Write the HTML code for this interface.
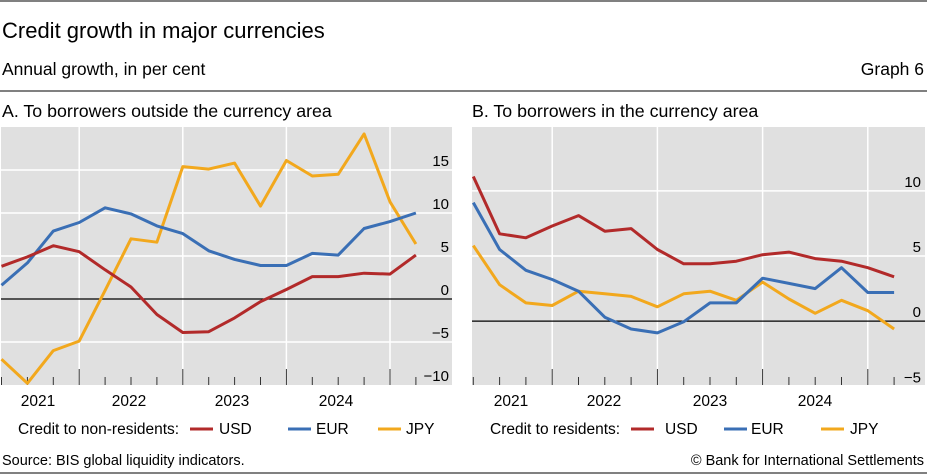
<!DOCTYPE html>
<html><head><meta charset="utf-8"><style>
body{margin:0;background:#fff;font-family:"Liberation Sans",sans-serif;}
svg{display:block}
text{font-family:"Liberation Sans",sans-serif;fill:#000}
</style></head><body>
<svg id="chart" width="927" height="475" viewBox="0 0 927 475">
<line x1="0" y1="1" x2="927" y2="1" stroke="#000" stroke-width="1"/>
<text x="2" y="38" font-size="22">Credit growth in major currencies</text>
<text x="2" y="75" font-size="17.5">Annual growth, in per cent</text>
<text x="924" y="75" font-size="17.5" text-anchor="end">Graph 6</text>
<line x1="0" y1="91" x2="927" y2="91" stroke="#000" stroke-width="1"/>
<text x="2" y="117" font-size="17.8">A. To borrowers outside the currency area</text>
<text x="472" y="117" font-size="17.8">B. To borrowers in the currency area</text>
<g id="pa"></g>
<g id="pb"></g>
<text x="18" y="434" font-size="15.5">Credit to non-residents:</text>
<line x1="190" y1="429" x2="213" y2="429" stroke="#b22a2a" stroke-width="3"/>
<text x="219" y="434" font-size="15.5">USD</text>
<line x1="288" y1="429" x2="311" y2="429" stroke="#3a6fb5" stroke-width="3"/>
<text x="316" y="434" font-size="15.5">EUR</text>
<line x1="378" y1="429" x2="401" y2="429" stroke="#f2a81d" stroke-width="3"/>
<text x="406" y="434" font-size="15.5">JPY</text>
<text x="490" y="434" font-size="15.5">Credit to residents:</text>
<line x1="631" y1="429" x2="654" y2="429" stroke="#b22a2a" stroke-width="3"/>
<text x="665" y="434" font-size="15.5">USD</text>
<line x1="724" y1="429" x2="747" y2="429" stroke="#3a6fb5" stroke-width="3"/>
<text x="751" y="434" font-size="15.5">EUR</text>
<line x1="821" y1="429" x2="844" y2="429" stroke="#f2a81d" stroke-width="3"/>
<text x="850" y="434" font-size="15.5">JPY</text>
<text x="2" y="465" font-size="14.5">Source: BIS global liquidity indicators.</text>
<text x="924" y="465" font-size="14.5" text-anchor="end">© Bank for International Settlements</text>
<line x1="0" y1="473" x2="927" y2="473" stroke="#000" stroke-width="1"/>
</svg>
<script>
const years = ["2021","2022","2023","2024"];
const aTicks = [15,10,5,0,-5,-10];
const aUSD = [3.8,4.9,6.2,5.5,3.4,1.4,-1.8,-3.9,-3.8,-2.2,-0.3,1.1,2.6,2.6,3.0,2.9,5.1];
const aEUR = [1.6,4.2,7.9,8.9,10.6,9.9,8.5,7.6,5.6,4.6,3.9,3.9,5.3,5.1,8.2,9.0,10.0];
const aJPY = [-7.0,-9.8,-6.0,-4.9,1.0,7.0,6.6,15.4,15.1,15.8,10.8,16.1,14.3,14.5,19.2,11.3,6.4];
const bTicks = [10,5,0,-5];
const bUSD = [11.1,6.7,6.4,7.3,8.1,6.9,7.1,5.5,4.4,4.4,4.6,5.1,5.3,4.8,4.6,4.1,3.4];
const bEUR = [9.1,5.5,3.9,3.2,2.3,0.3,-0.6,-0.9,-0.05,1.4,1.4,3.3,2.9,2.5,4.1,2.2,2.2];
const bJPY = [5.8,2.8,1.4,1.2,2.3,2.1,1.9,1.1,2.1,2.3,1.6,3.0,1.7,0.6,1.6,0.8,-0.6];
const NS="http://www.w3.org/2000/svg";
function mk(p,t,a){const e=document.createElementNS(NS,t);for(const k in a)e.setAttribute(k,a[k]);p.appendChild(e);return e;}
function panel(g,cfg){
  const {x0,x1,y0,y1,vmin,vmax,px0,dx,ticks,series,yearX,tickRight}=cfg;
  const ys=v=>y1-(v-vmin)/(vmax-vmin)*(y1-y0);
  const xs=i=>px0+dx*i;
  const bg=mk(g,'rect',{x:x0,y:y0,width:x1-x0,height:y1-y0,fill:'#e0e0e0'});
  
  
  ticks.forEach(t=>{
    if(t!==0&&t>vmin){const l=mk(g,'line',{x1:x0,x2:x1,y1:ys(t),y2:ys(t),stroke:'#fff','stroke-width':1.5});
    
    }
    const tx=mk(g,'text',{x:tickRight,y:ys(t)-4,'font-size':15,'text-anchor':'end'});
    tx.textContent=t<0?'\u2212'+(-t):String(t);
    
    
  });
  [3,7,11,15].forEach(i=>{
    const l=mk(g,'line',{x1:xs(i),x2:xs(i),y1:y0,y2:y1,stroke:'#fff','stroke-width':1.5});
    
    
  });
  for(let i=0;i<17;i++){
    const big=[3,7,11,15].includes(i);
    const l=mk(g,'line',{x1:xs(i),x2:xs(i),y1:y1-(big?16:8),y2:y1,stroke:'#333','stroke-width':1});
    
    
  }
  const z=mk(g,'line',{x1:x0,x2:x1,y1:ys(0),y2:ys(0),stroke:'#000','stroke-width':1.2});
  
  
  years.forEach((y,k)=>{
    const t=mk(g,'text',{x:yearX[k],y:406,'font-size':15.5,'text-anchor':'middle'});
    t.textContent=y;
    
    
  });
  series.forEach(s=>{
    const d=s.v.map((v,i)=>(i?'L':'M')+xs(i).toFixed(1)+','+ys(v).toFixed(1)).join('');
    const p=mk(g,'path',{d:d,fill:'none',stroke:s.c,'stroke-width':3,'stroke-linejoin':'round'});
    
    
  });
}
panel(document.getElementById('pa'),{x0:1,x1:452,y0:127,y1:385,vmin:-10,vmax:20,px0:1.5,dx:25.9,ticks:aTicks,tickRight:449,
  yearX:[38,129,232,336],
  series:[{v:aJPY,c:'#f2a81d',n:'jpy-line-a'},{v:aEUR,c:'#3a6fb5',n:'eur-line-a'},{v:aUSD,c:'#b22a2a',n:'usd-line-a'}]});
panel(document.getElementById('pb'),{x0:472,x1:925,y0:127,y1:385,vmin:-4.9,vmax:14.9,px0:473.3,dx:26.3,ticks:bTicks,tickRight:921,
  yearX:[511,604,710,815],
  series:[{v:bJPY,c:'#f2a81d',n:'jpy-line-b'},{v:bEUR,c:'#3a6fb5',n:'eur-line-b'},{v:bUSD,c:'#b22a2a',n:'usd-line-b'}]});
</script>
</body></html>
